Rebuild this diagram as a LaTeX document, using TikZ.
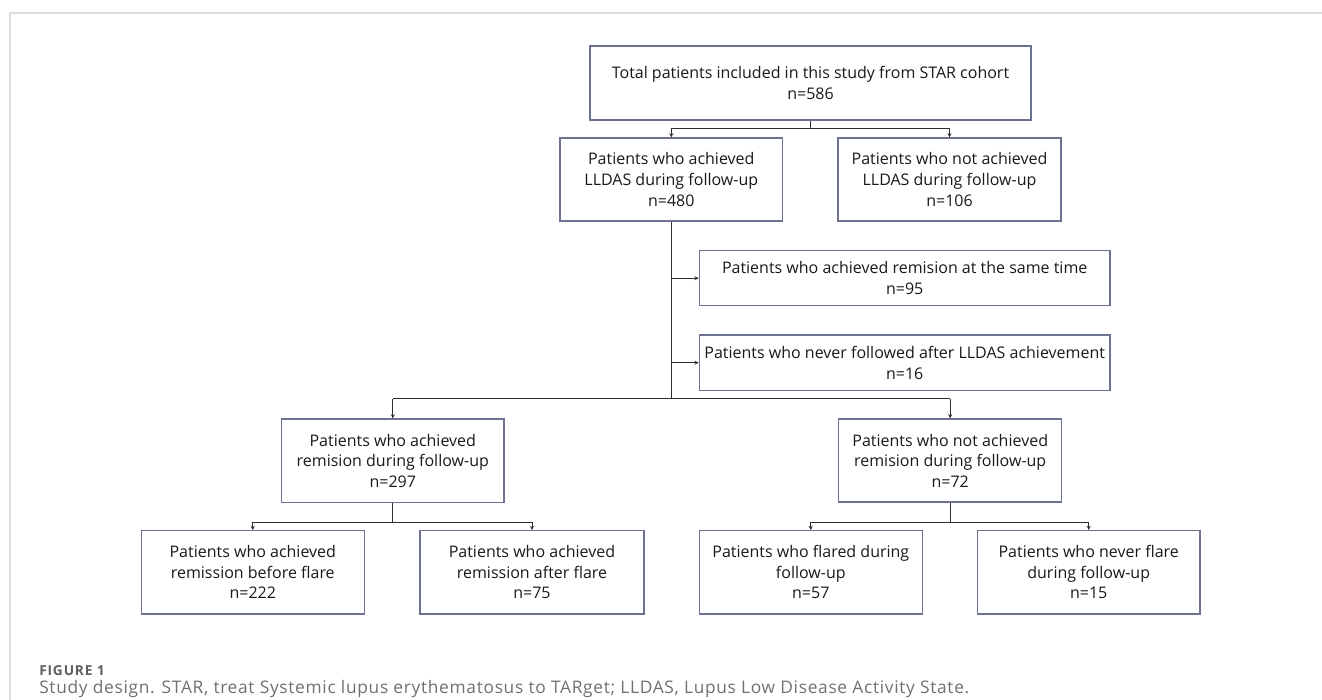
\documentclass[tikz,border=0pt]{standalone}
\usepackage{fontspec}
\setmainfont{Open Sans}
\newfontfamily\capfont[LetterSpace=4]{Open Sans}
\newfontfamily\capboldfont[LetterSpace=6]{Open Sans}
\usetikzlibrary{arrows.meta}
\definecolor{boxline}{RGB}{110,114,145}
\definecolor{conn}{RGB}{45,45,45}
\definecolor{frame}{RGB}{220,220,220}
\definecolor{captxt}{RGB}{112,112,112}
\definecolor{capbold}{RGB}{95,95,95}
\tikzset{
  box/.style={draw=boxline, line width=0.9pt, align=center, inner sep=0pt,
    font=\fontsize{12pt}{15.4pt}\selectfont, text=black!90},
  conline/.style={draw=conn, line width=0.75pt},
  arr/.style={conline, -{Stealth[length=3.2pt,width=3pt]}}
}
\begin{document}
\begin{tikzpicture}[x=0.75pt,y=-0.75pt]
\useasboundingbox (0,0) rectangle (1322,700);
\draw[frame, line width=1.2pt] (10,700) -- (10,13) -- (1322,13);

\node[box, minimum width=441*0.75pt, minimum height=74*0.75pt] (A) at (810.5,83)
  {Total patients included in this study from STAR cohort\\n=586};
\node[box, minimum width=222.7*0.75pt, minimum height=83*0.75pt] (B) at (671.3,179.5)
  {Patients who achieved\\LLDAS during follow-up\\n=480};
\node[box, minimum width=223*0.75pt, minimum height=83*0.75pt] (C) at (949.5,179.5)
  {Patients who not achieved\\LLDAS during follow-up\\n=106};
\node[box, minimum width=410.7*0.75pt, minimum height=55*0.75pt] (D) at (904.7,278.2)
  {Patients who achieved remision at the same time\\n=95};
\node[box, minimum width=410.7*0.75pt, minimum height=55.5*0.75pt] (E) at (904.7,362.7)
  {Patients who never followed after LLDAS achievement\\n=16};
\node[box, minimum width=222.3*0.75pt, minimum height=83.3*0.75pt] (F) at (392.8,460.7)
  {Patients who achieved\\remision during follow-up\\n=297};
\node[box, minimum width=223*0.75pt, minimum height=83*0.75pt] (G) at (950.2,460.5)
  {Patients who not achieved\\remision during follow-up\\n=72};
\node[box, minimum width=223*0.75pt, minimum height=83.3*0.75pt] (H) at (252.8,572.3)
  {Patients who achieved\\remission before flare\\n=222};
\node[box, minimum width=224*0.75pt, minimum height=83.3*0.75pt] (I) at (532,572.3)
  {Patients who achieved\\remission after flare\\n=75};
\node[box, minimum width=223*0.75pt, minimum height=83.3*0.75pt] (J) at (810.8,572.3)
  {Patients who flared during\\follow-up\\n=57};
\node[box, minimum width=222.7*0.75pt, minimum height=83.3*0.75pt] (K) at (1088.7,572.3)
  {Patients who never flare\\during follow-up\\n=15};

% connectors
\coordinate (a1) at (810.5,128.3);
\draw[conline] (A.south) -- (a1);
\draw[conline] (a1 -| B) -- (a1 -| C);
\draw[arr] (a1 -| B) -- (B.north);
\draw[arr] (a1 -| C) -- (C.north);

\coordinate (b1) at (671.3,398.7);
\draw[conline] (B.south) -- (b1);
\draw[arr] (B.south |- D.west) -- (D.west);
\draw[arr] (B.south |- E.west) -- (E.west);
\draw[conline] (b1 -| F) -- (b1 -| G);
\draw[arr] (b1 -| F) -- (F.north);
\draw[arr] (b1 -| G) -- (G.north);

\coordinate (f1) at (392.8,522.3);
\draw[conline] (F.south) -- (f1);
\draw[conline] (f1 -| H) -- (f1 -| I);
\draw[arr] (f1 -| H) -- (H.north);
\draw[arr] (f1 -| I) -- (I.north);

\coordinate (g1) at (950.2,522.3);
\draw[conline] (G.south) -- (g1);
\draw[conline] (g1 -| J) -- (g1 -| K);
\draw[arr] (g1 -| J) -- (J.north);
\draw[arr] (g1 -| K) -- (K.north);

% caption
\node[anchor=base west, inner sep=0pt, text=capbold, font=\capboldfont\bfseries\fontsize{10.3pt}{11pt}\selectfont] (fig) at (39,675) {FIGURE 1};
\node[anchor=base west, inner sep=0pt, text=captxt, font=\capfont\fontsize{13pt}{14pt}\selectfont] (cap) at (39,693.3)
  {Study design. STAR, treat Systemic lupus erythematosus to TARget; LLDAS, Lupus Low Disease Activity State.};
\end{tikzpicture}
\end{document}
